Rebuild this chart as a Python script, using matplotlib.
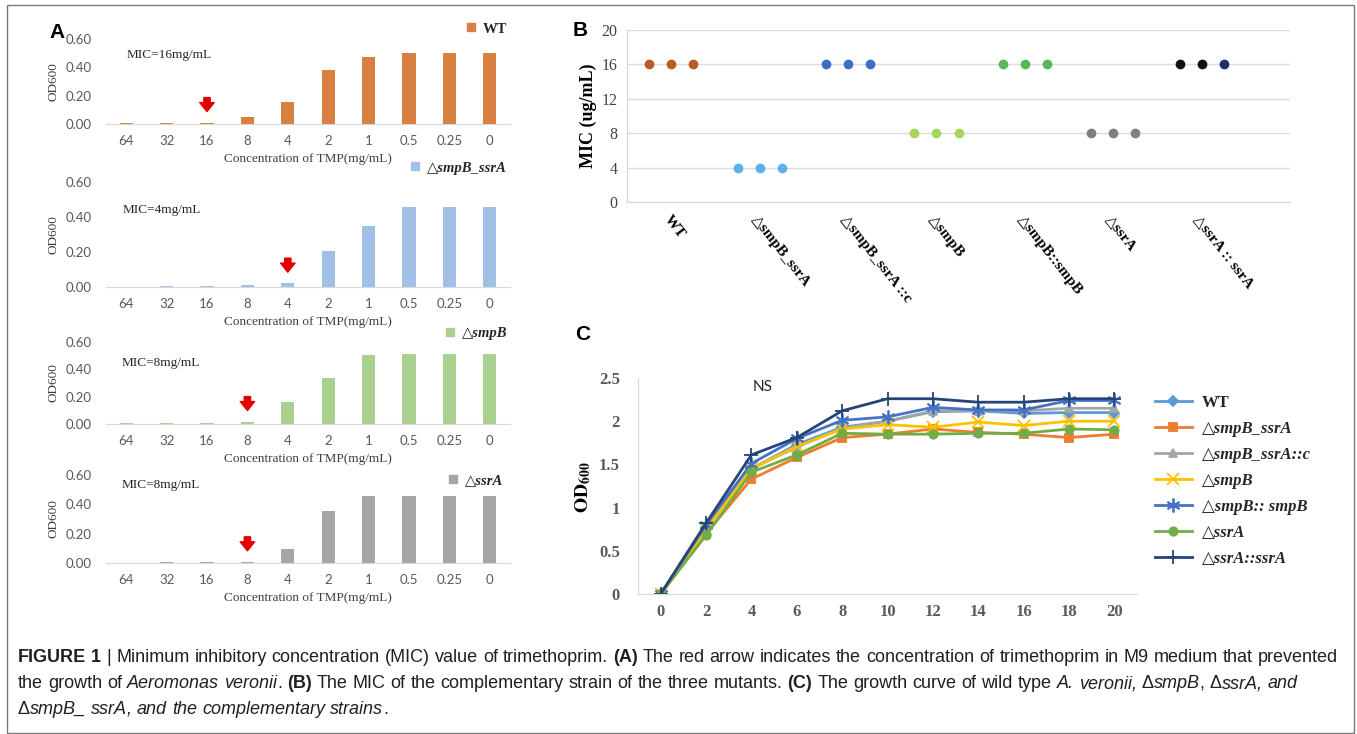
import matplotlib
matplotlib.use('Agg')
import matplotlib.pyplot as plt
from matplotlib.lines import Line2D
from matplotlib.patches import Rectangle
from matplotlib import font_manager

# ---------------- data ----------------
# panel A: OD600 after growth in TMP
conc_labels = ['64', '32', '16', '8', '4', '2', '1', '0.5', '0.25', '0']
od_wt = [0.01, 0.01, 0.01, 0.05, 0.155, 0.38, 0.47, 0.50, 0.50, 0.50]
od_smpb_ssra = [0.0, 0.004, 0.004, 0.012, 0.022, 0.205, 0.35, 0.457, 0.457, 0.457]
od_smpb = [0.01, 0.01, 0.01, 0.018, 0.16, 0.335, 0.505, 0.515, 0.515, 0.515]
od_ssra = [0.0, 0.008, 0.008, 0.008, 0.093, 0.355, 0.46, 0.46, 0.46, 0.46]
a_names = ['WT', '△smpB_ssrA', '△smpB', '△ssrA']
mic_text = ['MIC=16mg/mL', 'MIC=4mg/mL', 'MIC=8mg/mL', 'MIC=8mg/mL']
mic_index = [2, 4, 3, 3]

# panel B: MIC of each strain (3 replicates)
b_strains = ['WT', '△smpB_ssrA', '△smpB_ssrA ::c', '△smpB', '△smpB::smpB', '△ssrA', '△ssrA :: ssrA']
b_mic = [[16, 16, 16], [4, 4, 4], [16, 16, 16], [8, 8, 8], [16, 16, 16], [8, 8, 8], [16, 16, 16]]

# panel C: growth curves
hours = [0, 2, 4, 6, 8, 10, 12, 14, 16, 18, 20]
c_wt = [0, 0.78, 1.45, 1.73, 1.93, 2.0, 2.11, 2.12, 2.09, 2.1, 2.1]
c_smpb_ssra = [0, 0.70, 1.33, 1.58, 1.81, 1.85, 1.91, 1.87, 1.85, 1.81, 1.85]
c_smpb_ssra_c = [0, 0.75, 1.45, 1.70, 1.92, 2.0, 2.12, 2.12, 2.12, 2.15, 2.15]
c_smpb = [0, 0.75, 1.45, 1.71, 1.91, 1.96, 1.93, 1.99, 1.95, 2.0, 2.0]
c_smpb_smpb = [0, 0.80, 1.51, 1.80, 2.01, 2.05, 2.16, 2.13, 2.13, 2.24, 2.24]
c_ssra = [0, 0.68, 1.41, 1.61, 1.86, 1.85, 1.85, 1.86, 1.86, 1.91, 1.9]
c_ssra_ssra = [0, 0.82, 1.61, 1.81, 2.12, 2.26, 2.26, 2.22, 2.22, 2.26, 2.26]
c_names = ['WT', '△smpB_ssrA', '△smpB_ssrA::c', '△smpB', '△smpB:: smpB', '△ssrA', '△ssrA::ssrA']

# ---------------- styling ----------------
W, H = 1357, 734
SERIF = ['Liberation Serif', 'DejaVu Sans']
SANS = ['Lato', 'DejaVu Sans']
plt.rcParams['mathtext.fontset'] = 'stix'

fig = plt.figure(figsize=(W / 100, H / 100), dpi=100)


def fx(px):
    return px / W


def fy(py):
    return 1 - py / H


def px_axes(l, t, r, b):
    return fig.add_axes([fx(l), fy(b), (r - l) / W, (b - t) / H])


# border round the whole figure
fig.add_artist(Rectangle((fx(7), fy(733)), (1354 - 7) / W, (733 - 5) / H,
                         transform=fig.transFigure, fill=False, ec='#7a7a7a', lw=1))

# ---------------- panel A ----------------
a_values = [od_wt, od_smpb_ssra, od_smpb, od_ssra]
a_colors = ['#d8803f', '#a2bfe6', '#a9d08e', '#a6a6a6']
a_boxes = [(106, 39, 510, 124), (106, 182, 510, 287), (106, 342, 510, 424), (106, 475, 510, 563)]
a_leg = [(507, 29), (507, 168), (507, 333), (503, 481)]
a_mic = [(127, 55), (123, 210), (122, 363), (122, 485)]

for i in range(4):
    l, t, r, b = a_boxes[i]
    ax = px_axes(l, t, r, b)
    ax.bar(range(10), a_values[i], width=0.33, color=a_colors[i])
    ax.set_xlim(-0.5, 9.5)
    ax.set_ylim(0, 0.6)
    ax.set_yticks([0, 0.2, 0.4, 0.6])
    ax.set_yticklabels(['0.00', '0.20', '0.40', '0.60'])
    ax.set_xticks(range(10))
    ax.set_xticklabels(conc_labels)
    ax.tick_params(length=0, labelsize=9.5, labelcolor='#595959')
    ax.tick_params(axis='x', pad=8)
    ax.tick_params(axis='y', pad=10)
    for lab in ax.get_xticklabels() + ax.get_yticklabels():
        lab.set_family(SANS)
    for s in ['top', 'right', 'left']:
        ax.spines[s].set_visible(False)
    ax.spines['bottom'].set_color('#d9d9d9')

    fig.text(fx((l + r) / 2), fy(b + 35), 'Concentration of TMP(mg/mL)', family=SERIF,
             fontsize=9.5, color='#404040', ha='center', va='center')
    fig.text(fx(53), fy((t + b) / 2), 'OD600', family=SERIF, fontsize=9.5, color='#404040',
             rotation=90, ha='center', va='center')
    fig.text(fx(a_mic[i][0]), fy(a_mic[i][1]), mic_text[i], family=SERIF, fontsize=9.5,
             color='#262626', ha='left', va='center')

    # red arrow above the MIC bar
    hpx = b - t
    k = mic_index[i]
    tip = a_values[i][k] + 11 * 0.6 / hpx
    top = tip + 14 * 0.6 / hpx
    ax.annotate('', xy=(k, tip), xytext=(k, top),
                arrowprops=dict(arrowstyle='simple,head_length=0.5,head_width=0.8,tail_width=0.35',
                                color='#e00000', mutation_scale=13, shrinkA=0, shrinkB=0))

    h = Line2D([], [], marker='s', ls='', color=a_colors[i], markersize=6)
    leg = ax.legend([h], [a_names[i]], loc='center right',
                    bbox_to_anchor=(fx(a_leg[i][0]), fy(a_leg[i][1])),
                    bbox_transform=fig.transFigure, frameon=False, borderpad=0,
                    borderaxespad=0, handlelength=0.8, handletextpad=0.4,
                    prop={'family': SERIF, 'weight': 'bold',
                          'style': 'normal' if i == 0 else 'italic', 'size': 10.5})
    leg.get_texts()[0].set_color('#262626')

fig.text(fx(57), fy(33), 'A', fontsize=15, fontweight='bold', family='Liberation Sans',
         ha='center', va='center')

# ---------------- panel B ----------------
b_colors = [['#b95b22'] * 3, ['#5bb0f0'] * 3, ['#3b6fc7'] * 3, ['#a6d55c'] * 3,
            ['#58b858'] * 3, ['#7f7f7f'] * 3, ['#111111', '#111111', '#1f2d6e']]
axb = px_axes(627, 30, 1290, 202)
for g in range(len(b_strains)):
    for k in range(3):
        axb.plot(4 * g + 1 + k, b_mic[g][k], 'o', color=b_colors[g][k], markersize=6)
axb.set_xlim(0, 30)
axb.set_ylim(0, 20)
axb.set_yticks(range(0, 21, 4))
axb.grid(axis='y', color='#dcdcdc', lw=1)
axb.set_axisbelow(True)
axb.set_xticks([4 * g + 2 for g in range(len(b_strains))])
axb.set_xticklabels(b_strains, rotation=-52, ha='left', va='top', rotation_mode='anchor',
                    family=SERIF, fontweight='bold', fontsize=11)
axb.tick_params(length=0)
axb.tick_params(axis='x', pad=8)
axb.tick_params(axis='y', pad=7, labelsize=11.5, labelcolor='#3d405c')
for lab in axb.get_yticklabels():
    lab.set_family(SERIF)
for s in ['top', 'right']:
    axb.spines[s].set_visible(False)
axb.spines['left'].set_color('#d6d6d6')
axb.spines['bottom'].set_color('#d6d6d6')
fig.text(fx(588), fy(116), 'MIC (ug/mL)', family=SERIF, fontweight='bold', fontsize=13,
         rotation=90, ha='center', va='center')
fig.text(fx(580), fy(31), 'B', fontsize=15, fontweight='bold', family='Liberation Sans',
         ha='center', va='center')

# ---------------- panel C ----------------
c_values = [c_wt, c_smpb_ssra, c_smpb_ssra_c, c_smpb, c_smpb_smpb, c_ssra, c_ssra_ssra]
c_colors = ['#5b9bd5', '#ed7d31', '#a5a5a5', '#ffc000', '#4472c4', '#70ad47', '#264478']
c_markers = ['D', 's', '^', 'x', (6, 2, 0), 'o', '+']
c_msize = [5, 6, 6, 8, 10, 6, 10]
axc = px_axes(638, 378, 1137, 594)
for vals, col, mk, ms, name in zip(c_values, c_colors, c_markers, c_msize, c_names):
    axc.plot(hours, vals, color=col, lw=2, marker=mk, markersize=ms, markeredgewidth=1.3,
             label=name)
axc.set_xlim(-1, 21)
axc.set_ylim(0, 2.5)
axc.set_xticks(hours)
axc.set_yticks([0, 0.5, 1, 1.5, 2, 2.5])
axc.set_yticklabels(['0', '0.5', '1', '1.5', '2', '2.5'])
axc.tick_params(length=0, labelsize=12, labelcolor='#595959')
axc.tick_params(axis='x', pad=7)
axc.tick_params(axis='y', pad=13)
for lab in axc.get_xticklabels() + axc.get_yticklabels():
    lab.set_family(SERIF)
    lab.set_fontweight('bold')
for s in ['top', 'right']:
    axc.spines[s].set_visible(False)
axc.spines['left'].set_color('#d9d9d9')
axc.spines['bottom'].set_color('#d9d9d9')
axc.text(4.5, 2.4, 'NS', family=SANS, fontsize=11, color='#222222', ha='center', va='center')
fig.text(fx(583), fy(487), r'$\mathbf{OD_{600}}$', fontsize=14, rotation=90,
         ha='center', va='center')
fig.text(fx(583), fy(335), 'C', fontsize=15, fontweight='bold', family='Liberation Sans',
         ha='center', va='center')
legc = axc.legend(loc='upper left', bbox_to_anchor=(fx(1155), fy(395)),
                  bbox_transform=fig.transFigure, frameon=False, borderpad=0,
                  borderaxespad=0, handlelength=2.2, handletextpad=0.6, labelspacing=0.6,
                  prop={'family': SERIF, 'weight': 'bold', 'style': 'italic', 'size': 12})
legc.get_texts()[0].set_style('normal')
for t in legc.get_texts():
    t.set_color('#262626')

# ---------------- caption ----------------
names = {f.name for f in font_manager.fontManager.ttflist}
CAP = ['Liberation Sans Narrow', 'DejaVu Sans'] if 'Liberation Sans Narrow' in names \
    else ['Liberation Sans', 'DejaVu Sans']
cap_lines = [
    [('FIGURE 1', 'bold', 'normal'),
     (' | Minimum inhibitory concentration (MIC) value of trimethoprim. ', 'normal', 'normal'),
     ('(A)', 'bold', 'normal'),
     (' The red arrow indicates the concentration of trimethoprim in M9 medium that prevented',
      'normal', 'normal')],
    [('the growth of ', 'normal', 'normal'), ('Aeromonas veronii', 'normal', 'italic'),
     ('. ', 'normal', 'normal'), ('(B)', 'bold', 'normal'),
     (' The MIC of the complementary strain of the three mutants. ', 'normal', 'normal'),
     ('(C)', 'bold', 'normal'), (' The growth curve of wild type ', 'normal', 'normal'),
     ('A. veronii,', 'normal', 'italic'), (' Δ', 'normal', 'normal'),
     ('smpB', 'normal', 'italic'), (', Δ', 'normal', 'normal'),
     ('ssrA, and', 'normal', 'italic')],
    [('Δ', 'normal', 'normal'), ('smpB_ ssrA', 'normal', 'italic'),
     (', and the complementary strains', 'normal', 'italic'), ('.', 'normal', 'normal')],
]
cap_y = [657, 684, 710]
renderer = fig.canvas.get_renderer()


def draw_runs(x, y, runs, size):
    made = []
    probe = fig.text(0, 0, 'a a', family=CAP, fontsize=size)
    probe2 = fig.text(0, 0, 'aa', family=CAP, fontsize=size)
    sp = probe.get_window_extent(renderer).width - probe2.get_window_extent(renderer).width
    probe.remove()
    probe2.remove()
    for text, wt, st in runs:
        parts = text.split(' ')
        for j, p in enumerate(parts):
            if j > 0:
                x += sp
            if p:
                t = fig.text(fx(x), fy(y), p, family=CAP, fontsize=size, fontweight=wt,
                             fontstyle=st, color='#231f20', ha='left', va='center')
                x += t.get_window_extent(renderer).width
                made.append(t)
    return x, made


end, tmp = draw_runs(18, cap_y[0], cap_lines[0], 10)
for t in tmp:
    t.remove()
cap_size = 10 * (1339 - 18) / (end - 18)
for line, y in zip(cap_lines, cap_y):
    draw_runs(18, y, line, cap_size)

fig.savefig('out.png', dpi=100)
